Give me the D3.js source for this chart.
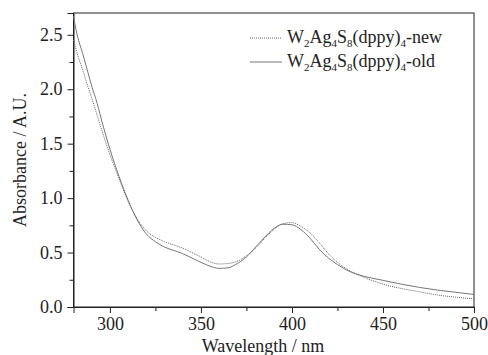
<!DOCTYPE html>
<html><head><meta charset="utf-8">
<script src="https://cdn.jsdelivr.net/npm/d3@7"></script>
<style>body{margin:0;background:#fff}svg{display:block}</style>
</head><body><svg id="c" width="488" height="355" font-family="Liberation Serif"></svg>
<script>
const wavelengths = [280,282,285,288,290,293,296,300,305,310,315,320,325,330,335,340,345,350,355,360,365,370,375,380,385,390,395,400,405,410,415,420,425,430,440,450,460,470,480,490,500];
const absNew = [2.45,2.33,2.18,2.02,1.92,1.76,1.60,1.40,1.18,0.97,0.81,0.70,0.64,0.60,0.57,0.54,0.50,0.46,0.415,0.395,0.40,0.42,0.47,0.54,0.63,0.71,0.765,0.775,0.74,0.68,0.59,0.49,0.41,0.35,0.27,0.21,0.17,0.14,0.11,0.09,0.075];
const absOld = [2.67,2.50,2.33,2.15,2.03,1.87,1.68,1.45,1.20,0.98,0.80,0.67,0.60,0.55,0.52,0.49,0.45,0.41,0.375,0.355,0.36,0.40,0.46,0.55,0.64,0.72,0.76,0.755,0.71,0.63,0.53,0.45,0.39,0.34,0.28,0.245,0.21,0.18,0.155,0.135,0.115];
const xTicks = [300,350,400,450,500];
const yTicks = [0.0,0.5,1.0,1.5,2.0,2.5];
const legendLabels = ["new","old"];

const FONT = "'Liberation Serif', 'Times New Roman', serif";
const svg = d3.select("#c");
const L=73.5,R=474,T=13,B=307;
const x = d3.scaleLinear().domain([280,500]).range([L,R]);
const y = d3.scaleLinear().domain([0,2.7]).range([B,T]);

svg.append("rect").attr("x",L).attr("y",T).attr("width",R-L).attr("height",B-T)
  .attr("fill","none").attr("stroke","#222").attr("stroke-width",1);

const gx = svg.append("g").attr("transform",`translate(0,${B})`);
gx.call(d3.axisBottom(x).tickValues(d3.range(275,501,25).filter(v=>v>=280 && v%50!==0)).tickSize(4).tickFormat(""));
gx.call(g=>g.select(".domain").remove());
const gx2 = svg.append("g").attr("transform",`translate(0,${B})`);
gx2.call(d3.axisBottom(x).tickValues(xTicks).tickSize(6).tickPadding(4).tickFormat(d3.format("d")));
gx2.select(".domain").attr("stroke","#222");

const gy = svg.append("g").attr("transform",`translate(${L},0)`);
gy.call(d3.axisLeft(y).tickValues([0.25,0.75,1.25,1.75,2.25]).tickSize(4).tickFormat(""));
gy.call(g=>g.select(".domain").remove());
const gy2 = svg.append("g").attr("transform",`translate(${L},0)`);
gy2.call(d3.axisLeft(y).tickValues(yTicks).tickSize(6).tickPadding(5).tickFormat(d3.format(".1f")));
gy2.select(".domain").attr("stroke","#222");
svg.selectAll(".tick line").attr("stroke","#222");
svg.selectAll("g").attr("font-family",null).attr("font-size",null);
svg.selectAll(".tick text").attr("font-size",18).attr("fill","#222");

const line = d3.line().x((d,i)=>x(wavelengths[i])).y(d=>y(d)).curve(d3.curveMonotoneX);
svg.append("path").datum(absOld).attr("d",line).attr("fill","none").attr("stroke","#777").attr("stroke-width",1);
svg.append("path").datum(absNew).attr("d",line).attr("fill","none").attr("stroke","#666").attr("stroke-width",1).attr("stroke-dasharray","1,1");

svg.append("text").attr("x",263).attr("y",352).attr("text-anchor","middle").attr("font-size",18).attr("fill","#222").text("Wavelength / nm");
svg.append("text").attr("transform","translate(26,160) rotate(-90)").attr("text-anchor","middle").attr("font-size",18).attr("fill","#222").text("Absorbance / A.U.");

const lg = svg.append("g");
legendLabels.forEach((lab,i)=>{
  const yy = 38 + i*24;
  lg.append("line").attr("x1",250).attr("x2",282).attr("y1",yy).attr("y2",yy)
    .attr("stroke",i===0?"#666":"#777").attr("stroke-width",1).attr("stroke-dasharray",i===0?"1,1":null);
  const t = lg.append("text").attr("x",287).attr("y",yy+5).attr("font-size",18).attr("fill","#222");
  t.append("tspan").text("W");
  t.append("tspan").attr("font-size",11).attr("dy",4).text("2");
  t.append("tspan").attr("dy",-4).text("Ag");
  t.append("tspan").attr("font-size",11).attr("dy",4).text("4");
  t.append("tspan").attr("dy",-4).text("S");
  t.append("tspan").attr("font-size",11).attr("dy",4).text("8");
  t.append("tspan").attr("dy",-4).text("(dppy)");
  t.append("tspan").attr("font-size",11).attr("dy",4).text("4");
  t.append("tspan").attr("dy",-4).text("-"+lab);
});
svg.selectAll("text").style("font-family",FONT);
</script></body></html>
